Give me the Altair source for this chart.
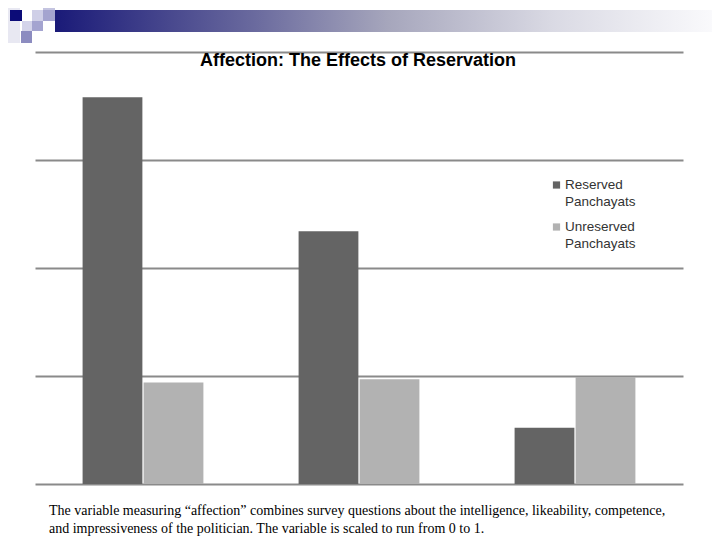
import altair as alt
import pandas as pd

groups = ["Group A", "Group B", "Group C"]
series = ["Reserved Panchayats", "Unreserved Panchayats"]
reserved = [0.358, 0.234, 0.052]
unreserved = [0.094, 0.097, 0.099]
legend_lines = [["Reserved", "Panchayats"], ["Unreserved", "Panchayats"]]
title_text = "Affection: The Effects of Reservation"
caption_lines = [
    "The variable measuring \u201caffection\u201d combines survey questions about the intelligence, likeability, competence,",
    "and impressiveness of the politician.  The variable is scaled to run from 0 to 1.",
]
colors = ["#646464", "#b2b2b2"]

rows = []
for g, r, u in zip(groups, reserved, unreserved):
    rows.append({"group": g, "series": series[0], "value": r})
    rows.append({"group": g, "series": series[1], "value": u})
df = pd.DataFrame(rows)

W, H = 648, 432
one = pd.DataFrame({"a": [0]})

# slide decoration
deco = pd.DataFrame([
    {"x": -27, "x2": -15, "y": -44, "y2": -9, "c": "#e8e8f2"},
    {"x": -25, "x2": -13, "y": -42, "y2": -31, "c": "#0c0c78"},
    {"x": -13, "x2": -3, "y": -31, "y2": -21, "c": "#d4d4ea"},
    {"x": -3, "x2": 8, "y": -42, "y2": -31, "c": "#cfcfe7"},
    {"x": 8, "x2": 20, "y": -44, "y2": -42, "c": "#c4c4e0"},
    {"x": 8, "x2": 20, "y": -42, "y2": -31, "c": "#a4a4cf"},
    {"x": -3, "x2": 8, "y": -31, "y2": -21, "c": "#a4a4d0"},
    {"x": -14, "x2": -3, "y": -21, "y2": -9, "c": "#8c8cc0"},
])
deco_layer = alt.Chart(deco).mark_rect().encode(
    x=alt.X("x:Q", scale=None), x2="x2:Q",
    y=alt.Y("y:Q", scale=None), y2="y2:Q",
    color=alt.Color("c:N", scale=None),
)
grad = alt.Chart(one).mark_rect(
    color=alt.LinearGradient(
        gradient="linear",
        stops=[
            alt.GradientStop(color="#1a1a78", offset=0),
            alt.GradientStop(color="#6a6a9e", offset=0.3),
            alt.GradientStop(color="#a6a6bc", offset=0.5),
            alt.GradientStop(color="#dadae4", offset=0.75),
            alt.GradientStop(color="#fbfbfd", offset=1),
        ],
        x1=0, x2=1, y1=0, y2=0,
    )
).encode(x=alt.value(20), x2=alt.value(685), y=alt.value(-42), y2=alt.value(-20))

bars = alt.Chart(df).mark_bar().encode(
    x=alt.X("group:N", sort=groups, axis=None,
            scale=alt.Scale(paddingInner=0, paddingOuter=0)),
    xOffset=alt.XOffset("series:N", sort=series,
                        scale=alt.Scale(paddingInner=0.02, paddingOuter=0.78)),
    y=alt.Y("value:Q", scale=alt.Scale(domain=[0, 0.4], nice=False),
            axis=alt.Axis(values=[0, 0.1, 0.2, 0.3, 0.4], labels=False, ticks=False,
                          domain=False, grid=True, gridColor="#8a8a8a", gridWidth=2,
                          title=None)),
    color=alt.Color("series:N", sort=series,
                    scale=alt.Scale(domain=series, range=colors), legend=None),
)

# manual legend (symbol aligned with first label line)
leg = pd.DataFrame({
    "series": series,
    "i": [0, 1],
    "t": ["\n".join(l) for l in legend_lines],
})
legend_symbols = alt.Chart(leg).mark_square(size=52, opacity=1).encode(
    x=alt.value(521.5),
    y=alt.Y("i:Q", scale=alt.Scale(domain=[0, 1], range=[133, 175]), axis=None),
    color=alt.Color("series:N", scale=alt.Scale(domain=series, range=colors), legend=None),
)
legend_text = alt.Chart(leg).mark_text(
    font="Liberation Sans", fontSize=13.5, align="left", baseline="alphabetic",
    color="#333333", lineBreak="\n", lineHeight=17,
).encode(
    x=alt.value(530),
    y=alt.Y("i:Q", scale=alt.Scale(domain=[0, 1], range=[137, 178.5]), axis=None),
    text="t:N",
)

title = alt.Chart(one).mark_text(
    text=title_text, font="Liberation Sans", fontSize=18, fontWeight="bold",
    align="center", baseline="middle", color="#000000",
).encode(x=alt.value(323), y=alt.value(9))

cap = pd.DataFrame({"line": caption_lines, "i": [0, 1]})
caption = alt.Chart(cap).mark_text(
    font="Liberation Serif", fontSize=14, align="left", baseline="alphabetic", color="#000000",
).encode(
    x=alt.value(14),
    y=alt.Y("i:Q", scale=alt.Scale(domain=[0, 1], range=[463, 481]), axis=None),
    text="line:N",
)

chart = alt.layer(grad, deco_layer, bars, legend_symbols, legend_text, title, caption).resolve_scale(
    y="independent"
).properties(
    width=W, height=H,
    autosize=alt.AutoSizeParams(type="none"),
    padding={"left": 27, "top": 44, "right": 29, "bottom": 58},
).configure_view(stroke=None)

chart.save("out.html", embed_options={"renderer": "svg", "actions": False})
